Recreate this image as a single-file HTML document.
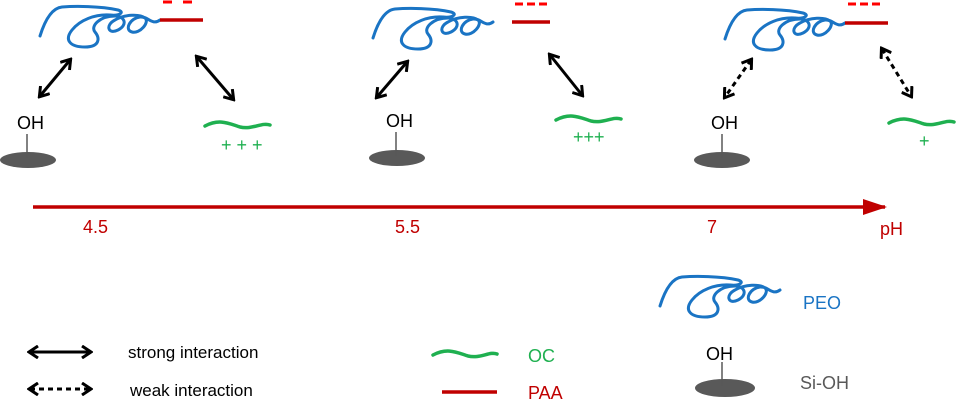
<!DOCTYPE html>
<html><head><meta charset="utf-8"><style>
html,body{margin:0;padding:0;background:#fff;}
svg{display:block;font-family:"Liberation Sans",sans-serif;}
</style></head><body>
<svg width="958" height="405" viewBox="0 0 958 405">
<defs>
<marker id="ah" markerWidth="12" markerHeight="14" refX="9" refY="7" orient="auto-start-reverse" markerUnits="userSpaceOnUse"><path d="M1,1 L10,7 L1,13" fill="none" stroke="#000" stroke-width="3"/></marker>
<marker id="rh" markerWidth="24" markerHeight="16" refX="22" refY="8" orient="auto" markerUnits="userSpaceOnUse"><path d="M0,0 L24,8 L0,16 Z" fill="#c00000"/></marker>
<path id="coil" d="M40,36 C45,20 52,8 62,7 C75,6 100,6 118,10 C125,12 120,16 110,15 C95,14 80,20 72,30 C64,40 70,47 85,47 C100,47 100,38 95,32 C90,26 100,16 115,16 C125,16 128,25 118,30 C108,35 105,25 115,20 C125,14 140,14 145,18 C150,22 140,34 132,32 C124,30 130,18 140,17 C148,16 152,26 160,20"/>
</defs>
<g fill="none" stroke="#1a74c4" stroke-width="3" stroke-linecap="round">
<use href="#coil"/>
<use href="#coil" transform="translate(333,2)"/>
<use href="#coil" transform="translate(685,3)"/>
<use href="#coil" transform="translate(620,270)"/>
</g>
<g stroke="#c00000" stroke-width="3.5">
<line x1="160" y1="20" x2="203" y2="20"/><line x1="512" y1="22" x2="550" y2="22"/><line x1="845" y1="23" x2="888" y2="23"/><line x1="442" y1="392" x2="497" y2="392"/>
</g>
<g stroke="#ff0000" stroke-width="3">
<line x1="163" y1="2" x2="172" y2="2"/><line x1="183" y1="2" x2="192" y2="2"/>
<line x1="515" y1="4" x2="523" y2="4"/><line x1="527" y1="4" x2="535" y2="4"/><line x1="539" y1="4" x2="547" y2="4"/>
<line x1="848" y1="4" x2="856" y2="4"/><line x1="860" y1="4" x2="868" y2="4"/><line x1="872" y1="4" x2="880" y2="4"/>
</g>
<g stroke="#000" stroke-width="3" fill="none">
<line x1="70" y1="60" x2="40" y2="96" marker-start="url(#ah)" marker-end="url(#ah)"/>
<line x1="197" y1="57" x2="233" y2="99" marker-start="url(#ah)" marker-end="url(#ah)"/>
<line x1="407" y1="62" x2="377" y2="97" marker-start="url(#ah)" marker-end="url(#ah)"/>
<line x1="550" y1="55" x2="582" y2="95" marker-start="url(#ah)" marker-end="url(#ah)"/>
<line x1="751" y1="60" x2="725" y2="97" stroke-dasharray="5,4" marker-start="url(#ah)" marker-end="url(#ah)"/>
<line x1="882" y1="49" x2="911" y2="96" stroke-dasharray="5,4" marker-start="url(#ah)" marker-end="url(#ah)"/>
<line x1="30" y1="352" x2="90" y2="352" marker-start="url(#ah)" marker-end="url(#ah)"/>
<line x1="30" y1="389" x2="90" y2="389" stroke-dasharray="5,4" marker-start="url(#ah)" marker-end="url(#ah)"/>
</g>
<g fill="#595959">
<ellipse cx="28" cy="160" rx="28" ry="8"/><ellipse cx="397" cy="158" rx="28" ry="8"/><ellipse cx="722" cy="160" rx="28" ry="8"/><ellipse cx="725" cy="388" rx="30" ry="9"/>
</g>
<g stroke="#595959" stroke-width="1.5">
<line x1="27" y1="134" x2="27" y2="158"/><line x1="396" y1="132" x2="396" y2="156"/><line x1="722" y1="134" x2="722" y2="158"/><line x1="722" y1="362" x2="722" y2="386"/>
</g>
<g font-size="18" fill="#000">
<text x="17" y="129">OH</text><text x="386" y="127">OH</text><text x="711" y="129">OH</text><text x="706" y="360">OH</text>
<text x="128" y="358" font-size="17">strong interaction</text><text x="130" y="396" font-size="17">weak interaction</text>
</g>
<g fill="none" stroke="#1fb050" stroke-width="3.5" stroke-linecap="round">
<path d="M205,126 C220,118 230,124 240,127 C252,130 262,122 270,125"/>
<path d="M556,120 C571,112 581,118 591,121 C603,124 613,116 621,119"/>
<path d="M889,123 C904,115 914,121 924,124 C936,127 946,119 954,122"/>
<path d="M433,355 C448,347 458,353 468,356 C480,359 490,351 497,354"/>
</g>
<g fill="#1fb050" font-size="18">
<text x="221" y="151">+ + +</text><text x="573" y="143">+++</text><text x="919" y="147">+</text><text x="528" y="362">OC</text>
</g>
<line x1="33" y1="207" x2="885" y2="207" stroke="#c00000" stroke-width="3.5" marker-end="url(#rh)"/>
<g fill="#c00000" font-size="18">
<text x="83" y="233">4.5</text><text x="395" y="233">5.5</text><text x="707" y="233">7</text><text x="880" y="235">pH</text><text x="528" y="399">PAA</text>
</g>
<text x="803" y="309" font-size="18" fill="#1a74c4">PEO</text>
<text x="800" y="389" font-size="18" fill="#595959">Si-OH</text>
</svg>
</body></html>
